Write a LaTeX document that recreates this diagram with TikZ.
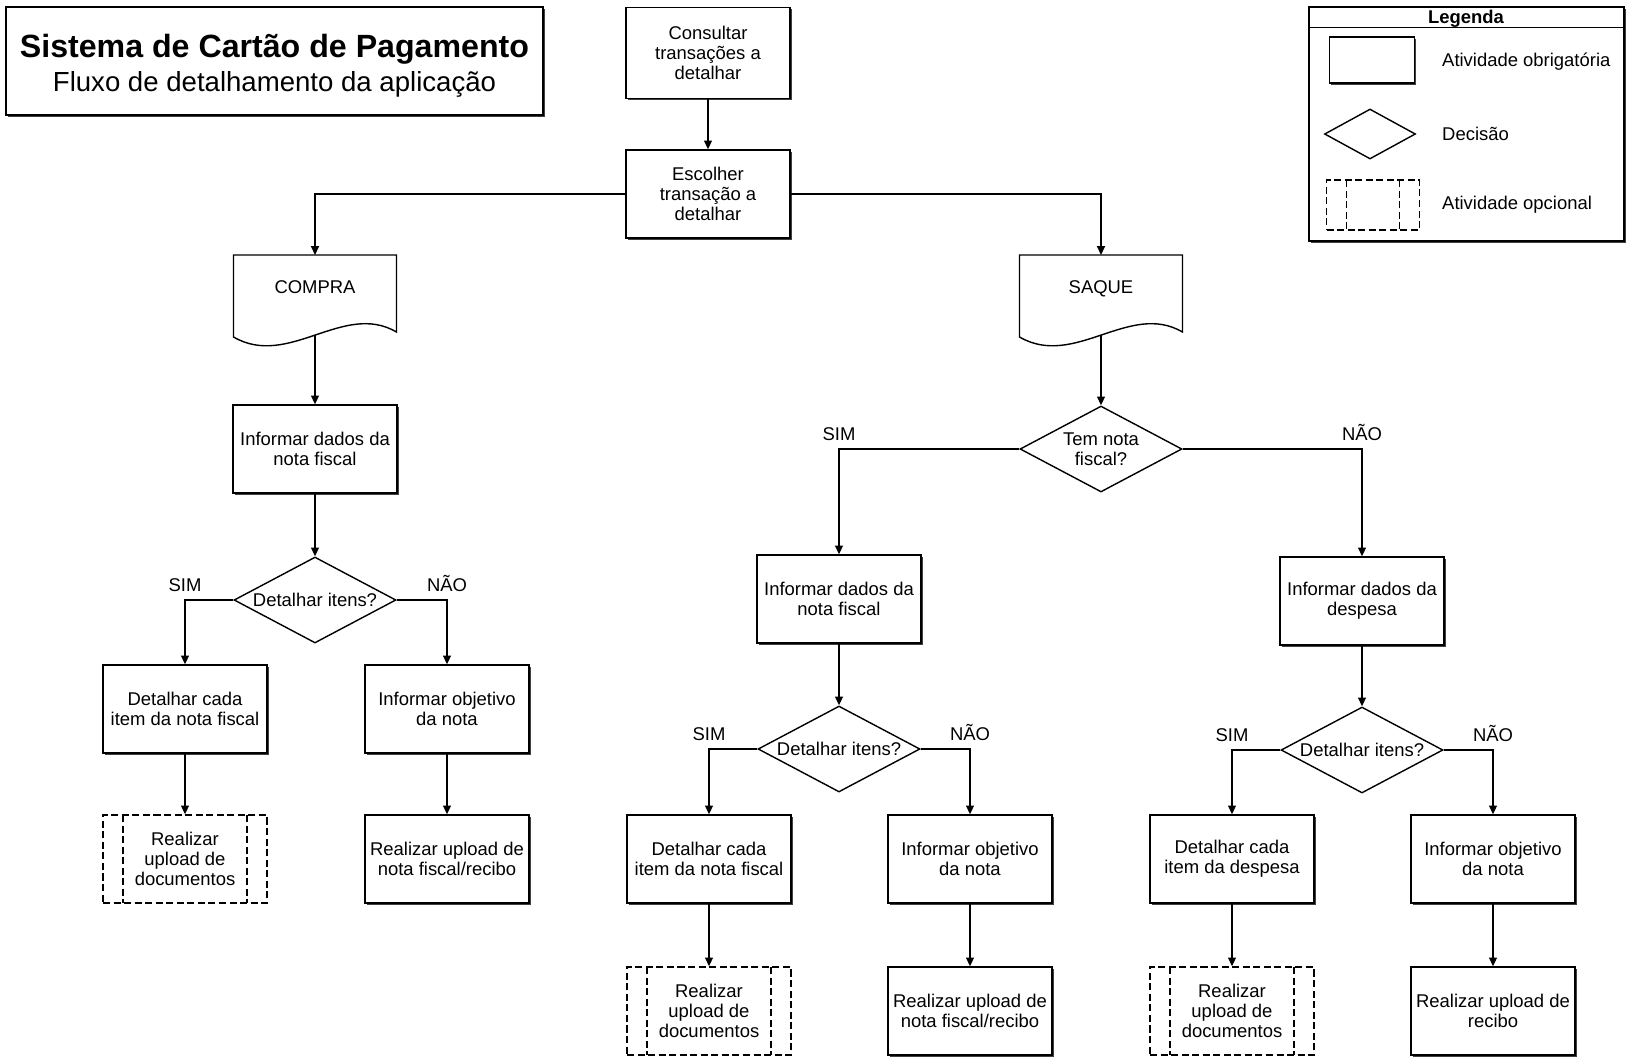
\documentclass[tikz,border=0pt]{standalone}
\usepackage{fontspec}
\setmainfont{Liberation Sans}
\usetikzlibrary{shapes.geometric,arrows.meta,shadows,calc}

\tikzset{
  txt/.style={font=\fontsize{10.5}{11.6}\selectfont},
  actbox/.style={txt, draw, line width=0.8pt, fill=white, align=center, inner sep=1pt,
    minimum width=3.28cm, minimum height=1.76cm,
    drop shadow={shadow xshift=0.9pt, shadow yshift=-0.9pt, fill=black!75, opacity=1}},
  optbox/.style={txt, draw, line width=0.8pt, dash pattern=on 4pt off 2pt, align=center, inner sep=1pt,
    minimum width=3.28cm, minimum height=1.76cm,
    path picture={\draw[line width=0.8pt, dash pattern=on 4pt off 2pt]
      ([xshift=0.4cm]path picture bounding box.north west) -- ([xshift=0.4cm]path picture bounding box.south west)
      ([xshift=-0.4cm]path picture bounding box.north east) -- ([xshift=-0.4cm]path picture bounding box.south east);}},
  decbox/.style={txt, diamond, draw, line width=0.8pt, aspect=1.9, inner sep=0pt, align=center,
    minimum width=3.24cm, minimum height=1.72cm},
  docnode/.style={txt, outer sep=0pt, minimum width=3.26cm, minimum height=1.28cm,
    text height=1.6ex, text depth=0.3ex},
  flow/.style={line width=0.8pt, -{Triangle[length=5pt,width=4.5pt]}},
  branch/.style={txt, pos=0.5, above, yshift=1pt}
}

\begin{document}
\begin{tikzpicture}[x=0.02cm, y=-0.02cm]
  \useasboundingbox (0,0) rectangle (1627,1062);

  % titulo e legenda
  \node[actbox, minimum width=10.74cm, minimum height=2.16cm, font=\fontsize{15.7}{19.5}\selectfont] (titulo) at (274.5,61)
    {\rule{0pt}{19pt}{\fontsize{18.3}{19.5}\selectfont\bfseries Sistema de Cartão de Pagamento}\\Fluxo de detalhamento da aplicação};
  \node[actbox, minimum width=6.3cm, minimum height=4.68cm] (legenda) at (1466.5,124) {};
  \draw[line width=0.8pt] ([yshift=-0.42cm]legenda.north west) -- ([yshift=-0.42cm]legenda.north east);
  \node[txt, font=\fontsize{10.5}{11.6}\selectfont\bfseries] (lgtitulo) at (1466,19) {Legenda};
  \node[actbox, minimum width=1.7cm, minimum height=0.92cm] (lgact) at (1372,60) {};
  \node[decbox, minimum width=1.82cm, minimum height=1cm] (lgdec) at (1370,134) {};
  \node[optbox, minimum width=1.86cm, minimum height=1cm] (lgopt) at (1373,205) {};
  \node[txt, anchor=west] (lgacttxt) at (1436,62) {Atividade obrigatória};
  \node[txt, anchor=west] (lgdectxt) at (1436,134) {Decisão};
  \node[txt, anchor=west] (lgopttxt) at (1436,205) {Atividade opcional};

  % topo
  \node[actbox, minimum height=1.82cm] (consultar) at (708,53) {Consultar\\transações a\\detalhar};
  \node[actbox] (escolher) at (708,194) {Escolher\\transação a\\detalhar};
  \node[docnode] (compra) at (315,287) {COMPRA};
  \node[docnode] (saque) at (1101,287) {SAQUE};
  \draw[line width=0.8pt] (compra.north west) -- (compra.north east) -- ($(compra.south east)+(0,13)$)
    .. controls ($(compra.south west)+(110,-18)$) and ($(compra.south west)+(55,50)$) .. ($(compra.south west)+(0,18)$) -- cycle;
  \draw[line width=0.8pt] (saque.north west) -- (saque.north east) -- ($(saque.south east)+(0,13)$)
    .. controls ($(saque.south west)+(110,-18)$) and ($(saque.south west)+(55,50)$) .. ($(saque.south west)+(0,18)$) -- cycle;
  \coordinate (compra-b) at ($(compra.south)+(0,16)$);
  \coordinate (saque-b) at ($(saque.south)+(0,16)$);

  % compra
  \node[actbox] (infnf1) at (315,449) {Informar dados da\\nota fiscal};
  \node[decbox] (dec1) at (315,600) {Detalhar itens?};
  \node[actbox] (det1) at (185,709) {Detalhar cada\\item da nota fiscal};
  \node[actbox] (obj1) at (447,709) {Informar objetivo\\da nota};
  \node[optbox] (up1) at (185,859) {Realizar\\upload de\\documentos};
  \node[actbox] (upn1) at (447,859) {Realizar upload de\\nota fiscal/recibo};

  % saque
  \node[decbox] (dec0) at (1101,449) {Tem nota\\fiscal?};
  \node[actbox] (infnf2) at (839,599) {Informar dados da\\nota fiscal};
  \node[actbox] (infd) at (1362,601) {Informar dados da\\despesa};
  \node[decbox] (dec2) at (839,749) {Detalhar itens?};
  \node[decbox] (dec3) at (1362,750) {Detalhar itens?};
  \node[actbox] (det2) at (709,859) {Detalhar cada\\item da nota fiscal};
  \node[actbox] (obj2) at (970,859) {Informar objetivo\\da nota};
  \node[optbox] (up2) at (709,1011) {Realizar\\upload de\\documentos};
  \node[actbox] (upn2) at (970,1011) {Realizar upload de\\nota fiscal/recibo};
  \node[actbox] (det3) at (1232,859) {Detalhar cada\\item da despesa};
  \node[actbox] (obj3) at (1493,859) {Informar objetivo\\da nota};
  \node[optbox] (up3) at (1232,1011) {Realizar\\upload de\\documentos};
  \node[actbox] (upr3) at (1493,1011) {Realizar upload de\\recibo};

  % ligacoes
  \draw[flow] (consultar) -- (escolher);
  \draw[flow] (escolher.west) -| (compra.north);
  \draw[flow] (escolher.east) -| (saque.north);
  \draw[flow] (compra-b) -- (infnf1);
  \draw[flow] (infnf1) -- (dec1);
  \draw[flow] (dec1.west) -| node[branch] {SIM} (det1.north);
  \draw[flow] (dec1.east) -| node[branch] {NÃO} (obj1.north);
  \draw[flow] (det1) -- (up1);
  \draw[flow] (obj1) -- (upn1);
  \draw[flow] (saque-b) -- (dec0);
  \draw[flow] (dec0.west) -| node[branch] {SIM} (infnf2.north);
  \draw[flow] (dec0.east) -| node[branch] {NÃO} (infd.north);
  \draw[flow] (infnf2) -- (dec2);
  \draw[flow] (infd) -- (dec3);
  \draw[flow] (dec2.west) -| node[branch] {SIM} (det2.north);
  \draw[flow] (dec2.east) -| node[branch] {NÃO} (obj2.north);
  \draw[flow] (dec3.west) -| node[branch] {SIM} (det3.north);
  \draw[flow] (dec3.east) -| node[branch] {NÃO} (obj3.north);
  \draw[flow] (det2) -- (up2);
  \draw[flow] (obj2) -- (upn2);
  \draw[flow] (det3) -- (up3);
  \draw[flow] (obj3) -- (upr3);
\end{tikzpicture}
\end{document}
